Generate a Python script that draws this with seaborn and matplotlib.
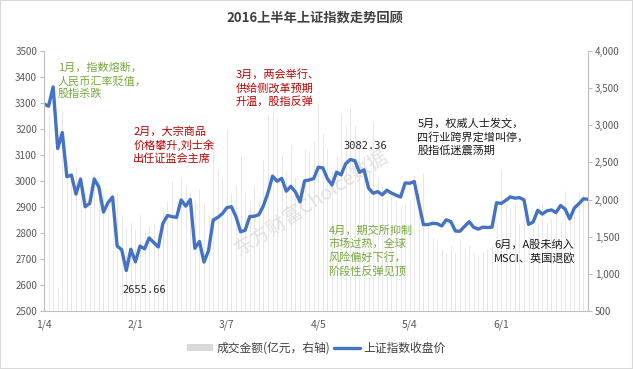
import numpy as np
import pandas as pd
import seaborn as sns
import matplotlib.pyplot as plt
from matplotlib.patches import Patch, Rectangle
from matplotlib.lines import Line2D
from matplotlib.ticker import FuncFormatter

# 上证指数收盘价 (2016-01-04 .. 2016-06-30, 120 个交易日)
close = [3296.26, 3287.71, 3361.84, 3125.00, 3186.41, 3016.70, 3022.86, 2949.60, 3007.65, 2900.97,
         2913.84, 3007.74, 2976.69, 2880.48, 2916.56, 2938.51, 2749.79, 2735.56, 2655.66, 2737.60,
         2688.85, 2749.57, 2739.25, 2781.02, 2763.49, 2746.20, 2836.57, 2867.34, 2862.89, 2860.02,
         2927.18, 2903.33, 2928.90, 2741.25, 2767.21, 2687.98, 2733.17, 2849.68, 2859.76, 2874.15,
         2897.34, 2901.39, 2862.56, 2804.73, 2810.31, 2863.37, 2864.37, 2870.43, 2904.83, 2955.15,
         3018.80, 2999.36, 3009.96, 2960.97, 2979.43, 2957.82, 2919.83, 3000.65, 3003.92, 3009.53,
         3053.07, 3050.59, 3008.42, 2984.96, 3033.96, 3023.65, 3066.64, 3082.36, 3078.12, 3033.66,
         3042.82, 2972.58, 2952.89, 2959.24, 2946.67, 2964.70, 2953.67, 2945.59, 2938.32, 2992.64,
         2991.27, 2997.84, 2913.25, 2832.11, 2832.59, 2837.04, 2835.86, 2827.11, 2850.86, 2843.68,
         2807.51, 2806.91, 2825.48, 2843.65, 2821.67, 2815.09, 2822.44, 2821.05, 2822.45, 2916.62,
         2913.51, 2925.23, 2938.68, 2934.10, 2936.04, 2927.16, 2833.07, 2842.19, 2887.21, 2872.82,
         2885.11, 2888.81, 2878.56, 2905.55, 2891.96, 2854.29, 2895.70, 2912.56, 2931.59, 2929.61]

# 成交金额 (亿元, 右轴)
volume = [2400, 3150, 2700, 810, 3200, 2500, 2300, 2450, 2200, 2100,
          2200, 2350, 2300, 2100, 1900, 2000, 2100, 1800, 1650, 1700,
          1600, 1800, 1600, 1650, 1700, 1550, 1900, 2000, 2260, 2000,
          2300, 2200, 2100, 2000, 2150, 1950, 1800, 2800, 2400, 2300,
          2950, 2100, 2200, 2600, 2100, 2000, 2200, 2000, 2550, 3150,
          3200, 3100, 2600, 2400, 2750, 2300, 2200, 2700, 2650, 2800,
          3300, 2900, 2700, 2400, 2600, 3150, 3000, 3250, 3000, 2800,
          2600, 2400, 3050, 2300, 2200, 2000, 2100, 2000, 1900, 1960,
          2000, 2330, 2100, 2360, 1700, 1500, 1450, 1350, 1300, 1390,
          1300, 1480, 1350, 1400, 1300, 1250, 1300, 1350, 1400, 1700,
          2400, 1950, 1900, 1950, 1700, 1800, 1500, 1650, 1700, 1950,
          1700, 1750, 1900, 1700, 2130, 1850, 2000, 2100, 2090, 2150]

tick_pos = [0, 20, 40, 60, 80, 100]
tick_labels = ['1/4', '2/1', '3/7', '4/5', '5/4', '6/1']

notes = [
    ('1月，指数熔断，\n人民币汇率贬值，\n股指杀跌', 3.0, 3455, '#77a83c'),
    ('2月，大宗商品\n价格攀升,刘士余\n出任证监会主席', 19.5, 3210, '#c00000'),
    ('3月，两会举行、\n供给侧改革预期\n升温，股指反弹', 42.0, 3430, '#c00000'),
    ('4月，期交所抑制\n市场过热，全球\n风险偏好下行，\n阶段性反弹见顶', 62.2, 2830, '#77a83c'),
    ('5月，权威人士发文，\n四行业跨界定增叫停，\n股指低迷震荡期', 81.7, 3240, '#1a1a1a'),
    ('6月，A股未纳入\nMSCI、英国退欧', 98.5, 2775, '#1a1a1a'),
]

df = pd.DataFrame({'idx': np.arange(len(close)), 'close': close, 'volume': volume})

sns.set_style('white')
plt.rcParams['font.family'] = ['Noto Sans CJK SC', 'DejaVu Sans']

fig = plt.figure(figsize=(6.33, 3.69), dpi=100)
ax = fig.add_axes([44 / 633, 58 / 369, 544 / 633, 260 / 369])
ax2 = ax.twinx()

sns.barplot(data=df, x='idx', y='volume', native_scale=True, width=0.45,
            color='#d9d9d9', saturation=1, ax=ax2)
sns.lineplot(data=df, x='idx', y='close', color='#4472c4', lw=2.4, ax=ax)

ax.set_zorder(ax2.get_zorder() + 1)
ax.patch.set_visible(False)

ax.set_xlim(0, 119)
ax.set_ylim(2500, 3500)
ax2.set_ylim(500, 4000)
ax.set_yticks(range(2500, 3501, 100))
ax2.set_yticks(range(500, 4001, 500))
ax2.yaxis.set_major_formatter(FuncFormatter(lambda v, p: f'{int(v):,}'))
ax.set_xticks(tick_pos)
ax.set_xticklabels(tick_labels)
ax.set_xlabel('')
ax.set_ylabel('')
ax2.set_ylabel('')

for a in (ax, ax2):
    a.tick_params(axis='both', labelsize=7, colors='#595959', length=3, width=0.8,
                  color='#bfbfbf', pad=2)
    for s in a.spines.values():
        s.set_visible(False)
ax.spines['left'].set_visible(True)
ax.spines['bottom'].set_visible(True)
ax2.spines['right'].set_visible(True)
for s in (ax.spines['left'], ax.spines['bottom'], ax2.spines['right']):
    s.set_color('#bfbfbf')
    s.set_linewidth(0.8)
ax.tick_params(axis='x', labelsize=7.5, pad=3)

fig.text(0.497, 0.951, '2016上半年上证指数走势回顾', ha='center', va='center',
         fontsize=9.5, fontweight='bold', color='#404040')

for txt, x, y, c in notes:
    ax.text(x, y, txt, ha='left', va='top', fontsize=8, color=c, linespacing=1.3)

ax.text(70.3, 3135, '3082.36', ha='center', va='center', fontsize=7.5,
        family='DejaVu Sans Mono', color='#262626')
ax.text(21.9, 2581, '2655.66', ha='center', va='center', fontsize=7.5,
        family='DejaVu Sans Mono', color='#262626')

ax.text(58.5, 2915, '东方财富Choice数据', ha='center', va='center', fontsize=14,
        rotation=33, color='#dedede', alpha=0.9, zorder=0)

handles = [Patch(facecolor='#d9d9d9', edgecolor='none'),
           Line2D([0], [0], color='#4472c4', lw=2.4)]
fig.legend(handles, ['成交金额(亿元，右轴)', '上证指数收盘价'], loc='center',
           bbox_to_anchor=(0.5, 0.057), ncol=2, frameon=False, fontsize=8.5,
           handlelength=2.2, handleheight=0.6, columnspacing=0.3, handletextpad=0.3,
           labelcolor='#404040')

fig.patches.append(Rectangle((0, 0), 1, 1, transform=fig.transFigure, fill=False,
                             edgecolor='#d9d9d9', lw=1.5))

fig.savefig('out.png', dpi=100)
